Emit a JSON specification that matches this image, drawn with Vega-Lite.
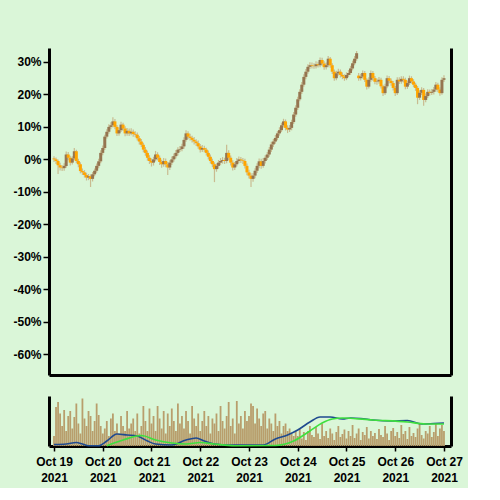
{
"$schema": "https://vega.github.io/schema/vega-lite/v6.json",
"background": "#daf6d8",
"padding": {"left": 12, "top": 48, "right": 5, "bottom": 5},
"spacing": 21,
"datasets": {
"ohlc": [
{"t":"2021-10-19T00:00","o":0.3,"h":1.0,"l":-0.8,"c":0.0,"v":20},
{"t":"2021-10-19T01:00","o":0.0,"h":0.6,"l":-1.4,"c":-0.5,"v":78},
{"t":"2021-10-19T02:00","o":-0.5,"h":0.0,"l":-4.5,"c":-1.8,"v":88},
{"t":"2021-10-19T03:00","o":-1.8,"h":-1.0,"l":-3.4,"c":-2.5,"v":65},
{"t":"2021-10-19T04:00","o":-2.5,"h":-1.8,"l":-3.6,"c":-2.7,"v":40},
{"t":"2021-10-19T05:00","o":-2.7,"h":-1.2,"l":-3.5,"c":-2.0,"v":72},
{"t":"2021-10-19T06:00","o":-2.0,"h":2.4,"l":-2.6,"c":1.5,"v":30},
{"t":"2021-10-19T07:00","o":1.5,"h":2.3,"l":-0.3,"c":0.5,"v":60},
{"t":"2021-10-19T08:00","o":0.5,"h":1.1,"l":-1.9,"c":-1.0,"v":70},
{"t":"2021-10-19T09:00","o":-1.0,"h":1.0,"l":-1.6,"c":0.3,"v":35},
{"t":"2021-10-19T10:00","o":0.3,"h":3.5,"l":-0.3,"c":2.5,"v":58},
{"t":"2021-10-19T11:00","o":2.5,"h":3.0,"l":-1.2,"c":-0.5,"v":85},
{"t":"2021-10-19T12:00","o":-0.5,"h":0.2,"l":-2.4,"c":-1.5,"v":45},
{"t":"2021-10-19T13:00","o":-1.5,"h":-0.9,"l":-4.3,"c":-3.6,"v":25},
{"t":"2021-10-19T14:00","o":-3.6,"h":-2.8,"l":-4.8,"c":-4.0,"v":95},
{"t":"2021-10-19T15:00","o":-4.0,"h":-3.3,"l":-5.6,"c":-4.8,"v":55},
{"t":"2021-10-19T16:00","o":-4.8,"h":-4.1,"l":-6.5,"c":-5.6,"v":40},
{"t":"2021-10-19T17:00","o":-5.6,"h":-4.5,"l":-6.4,"c":-5.2,"v":70},
{"t":"2021-10-19T18:00","o":-5.2,"h":-4.6,"l":-8.5,"c":-6.0,"v":60},
{"t":"2021-10-19T19:00","o":-6.0,"h":-3.9,"l":-6.8,"c":-4.6,"v":30},
{"t":"2021-10-19T20:00","o":-4.6,"h":-2.8,"l":-5.2,"c":-3.5,"v":50},
{"t":"2021-10-19T21:00","o":-3.5,"h":-1.3,"l":-4.1,"c":-2.0,"v":85},
{"t":"2021-10-19T22:00","o":-2.0,"h":0.2,"l":-2.7,"c":-0.6,"v":62},
{"t":"2021-10-19T23:00","o":-0.6,"h":2.8,"l":-1.2,"c":2.0,"v":40},
{"t":"2021-10-20T00:00","o":2.0,"h":4.3,"l":1.3,"c":3.5,"v":25},
{"t":"2021-10-20T01:00","o":3.5,"h":7.6,"l":2.9,"c":7.0,"v":35},
{"t":"2021-10-20T02:00","o":7.0,"h":9.3,"l":6.4,"c":8.5,"v":50},
{"t":"2021-10-20T03:00","o":8.5,"h":10.8,"l":7.9,"c":10.0,"v":20},
{"t":"2021-10-20T04:00","o":10.0,"h":11.4,"l":9.3,"c":10.5,"v":55},
{"t":"2021-10-20T05:00","o":10.5,"h":13.0,"l":9.8,"c":11.7,"v":65},
{"t":"2021-10-20T06:00","o":11.7,"h":12.4,"l":9.3,"c":10.0,"v":30},
{"t":"2021-10-20T07:00","o":10.0,"h":10.6,"l":7.2,"c":8.0,"v":45},
{"t":"2021-10-20T08:00","o":8.0,"h":9.8,"l":7.3,"c":9.0,"v":25},
{"t":"2021-10-20T09:00","o":9.0,"h":11.6,"l":8.4,"c":10.7,"v":60},
{"t":"2021-10-20T10:00","o":10.7,"h":11.3,"l":8.8,"c":9.5,"v":40},
{"t":"2021-10-20T11:00","o":9.5,"h":10.2,"l":7.1,"c":8.0,"v":30},
{"t":"2021-10-20T12:00","o":8.0,"h":9.7,"l":7.3,"c":8.8,"v":70},
{"t":"2021-10-20T13:00","o":8.8,"h":9.5,"l":7.2,"c":8.0,"v":35},
{"t":"2021-10-20T14:00","o":8.0,"h":9.6,"l":7.4,"c":8.5,"v":45},
{"t":"2021-10-20T15:00","o":8.5,"h":9.2,"l":7.0,"c":7.8,"v":55},
{"t":"2021-10-20T16:00","o":7.8,"h":8.7,"l":6.8,"c":7.6,"v":30},
{"t":"2021-10-20T17:00","o":7.6,"h":8.3,"l":5.8,"c":6.5,"v":65},
{"t":"2021-10-20T18:00","o":6.5,"h":7.2,"l":4.6,"c":5.5,"v":25},
{"t":"2021-10-20T19:00","o":5.5,"h":6.3,"l":3.8,"c":4.5,"v":40},
{"t":"2021-10-20T20:00","o":4.5,"h":5.1,"l":2.2,"c":3.0,"v":80},
{"t":"2021-10-20T21:00","o":3.0,"h":3.8,"l":1.1,"c":2.0,"v":50},
{"t":"2021-10-20T22:00","o":2.0,"h":2.7,"l":-0.4,"c":0.5,"v":30},
{"t":"2021-10-20T23:00","o":0.5,"h":1.3,"l":-1.4,"c":-0.5,"v":75},
{"t":"2021-10-21T00:00","o":-0.5,"h":0.3,"l":-2.2,"c":-1.0,"v":45},
{"t":"2021-10-21T01:00","o":-1.0,"h":0.8,"l":-1.9,"c":0.0,"v":60},
{"t":"2021-10-21T02:00","o":0.0,"h":2.6,"l":-0.6,"c":1.5,"v":30},
{"t":"2021-10-21T03:00","o":1.5,"h":2.2,"l":-0.3,"c":0.5,"v":80},
{"t":"2021-10-21T04:00","o":0.5,"h":1.2,"l":-1.7,"c":-0.8,"v":55},
{"t":"2021-10-21T05:00","o":-0.8,"h":-0.1,"l":-2.6,"c":-1.5,"v":35},
{"t":"2021-10-21T06:00","o":-1.5,"h":0.4,"l":-2.3,"c":-0.5,"v":70},
{"t":"2021-10-21T07:00","o":-0.5,"h":0.3,"l":-2.4,"c":-1.5,"v":25},
{"t":"2021-10-21T08:00","o":-1.5,"h":-0.8,"l":-4.8,"c":-2.5,"v":65},
{"t":"2021-10-21T09:00","o":-2.5,"h":-0.3,"l":-3.3,"c":-1.0,"v":40},
{"t":"2021-10-21T10:00","o":-1.0,"h":0.9,"l":-1.7,"c":0.0,"v":75},
{"t":"2021-10-21T11:00","o":0.0,"h":1.8,"l":-0.7,"c":1.0,"v":50},
{"t":"2021-10-21T12:00","o":1.0,"h":2.9,"l":0.3,"c":2.0,"v":30},
{"t":"2021-10-21T13:00","o":2.0,"h":3.7,"l":1.2,"c":3.0,"v":85},
{"t":"2021-10-21T14:00","o":3.0,"h":4.1,"l":2.3,"c":3.2,"v":45},
{"t":"2021-10-21T15:00","o":3.2,"h":4.8,"l":2.5,"c":4.0,"v":60},
{"t":"2021-10-21T16:00","o":4.0,"h":6.8,"l":3.3,"c":6.0,"v":35},
{"t":"2021-10-21T17:00","o":6.0,"h":9.0,"l":5.4,"c":8.0,"v":70},
{"t":"2021-10-21T18:00","o":8.0,"h":8.7,"l":6.2,"c":7.0,"v":50},
{"t":"2021-10-21T19:00","o":7.0,"h":7.9,"l":5.8,"c":6.6,"v":25},
{"t":"2021-10-21T20:00","o":6.6,"h":7.3,"l":5.2,"c":6.0,"v":80},
{"t":"2021-10-21T21:00","o":6.0,"h":6.9,"l":4.6,"c":5.5,"v":55},
{"t":"2021-10-21T22:00","o":5.5,"h":6.2,"l":4.1,"c":5.0,"v":40},
{"t":"2021-10-21T23:00","o":5.0,"h":5.8,"l":3.3,"c":4.0,"v":65},
{"t":"2021-10-22T00:00","o":4.0,"h":4.7,"l":2.1,"c":3.0,"v":30},
{"t":"2021-10-22T01:00","o":3.0,"h":4.4,"l":2.3,"c":3.5,"v":50},
{"t":"2021-10-22T02:00","o":3.5,"h":4.2,"l":2.2,"c":3.0,"v":70},
{"t":"2021-10-22T03:00","o":3.0,"h":3.6,"l":1.2,"c":2.0,"v":40},
{"t":"2021-10-22T04:00","o":2.0,"h":2.7,"l":0.0,"c":0.8,"v":60},
{"t":"2021-10-22T05:00","o":0.8,"h":1.5,"l":-1.3,"c":-0.5,"v":25},
{"t":"2021-10-22T06:00","o":-0.5,"h":0.2,"l":-2.4,"c":-1.5,"v":55},
{"t":"2021-10-22T07:00","o":-1.5,"h":-0.9,"l":-7.0,"c":-3.0,"v":45},
{"t":"2021-10-22T08:00","o":-3.0,"h":-1.2,"l":-3.8,"c":-2.0,"v":65},
{"t":"2021-10-22T09:00","o":-2.0,"h":-0.2,"l":-2.9,"c":-1.0,"v":30},
{"t":"2021-10-22T10:00","o":-1.0,"h":0.4,"l":-1.8,"c":-0.5,"v":80},
{"t":"2021-10-22T11:00","o":-0.5,"h":0.7,"l":-1.3,"c":-0.2,"v":50},
{"t":"2021-10-22T12:00","o":-0.2,"h":0.5,"l":-1.4,"c":-0.5,"v":35},
{"t":"2021-10-22T13:00","o":-0.5,"h":4.5,"l":-1.2,"c":2.0,"v":60},
{"t":"2021-10-22T14:00","o":2.0,"h":2.8,"l":-0.3,"c":0.5,"v":88},
{"t":"2021-10-22T15:00","o":0.5,"h":1.2,"l":-1.9,"c":-1.0,"v":40},
{"t":"2021-10-22T16:00","o":-1.0,"h":-0.3,"l":-3.4,"c":-2.5,"v":55},
{"t":"2021-10-22T17:00","o":-2.5,"h":-0.8,"l":-3.3,"c":-1.5,"v":25},
{"t":"2021-10-22T18:00","o":-1.5,"h":0.4,"l":-2.2,"c":-0.5,"v":90},
{"t":"2021-10-22T19:00","o":-0.5,"h":0.9,"l":-1.2,"c":0.0,"v":45},
{"t":"2021-10-22T20:00","o":0.0,"h":0.7,"l":-1.1,"c":-0.3,"v":60},
{"t":"2021-10-22T21:00","o":-0.3,"h":0.4,"l":-1.4,"c":-0.5,"v":35},
{"t":"2021-10-22T22:00","o":-0.5,"h":0.2,"l":-2.8,"c":-2.0,"v":70},
{"t":"2021-10-22T23:00","o":-2.0,"h":-1.3,"l":-4.9,"c":-4.0,"v":50},
{"t":"2021-10-23T00:00","o":-4.0,"h":-3.2,"l":-5.9,"c":-5.0,"v":60},
{"t":"2021-10-23T01:00","o":-5.0,"h":-4.3,"l":-8.5,"c":-6.0,"v":85},
{"t":"2021-10-23T02:00","o":-6.0,"h":-4.2,"l":-6.9,"c":-5.0,"v":80},
{"t":"2021-10-23T03:00","o":-5.0,"h":-2.7,"l":-5.8,"c":-3.5,"v":45},
{"t":"2021-10-23T04:00","o":-3.5,"h":-1.2,"l":-4.2,"c":-2.0,"v":75},
{"t":"2021-10-23T05:00","o":-2.0,"h":0.3,"l":-2.7,"c":-0.6,"v":55},
{"t":"2021-10-23T06:00","o":-0.6,"h":0.2,"l":-2.9,"c":-2.0,"v":40},
{"t":"2021-10-23T07:00","o":-2.0,"h":0.4,"l":-2.6,"c":-0.5,"v":65},
{"t":"2021-10-23T08:00","o":-0.5,"h":1.3,"l":-1.3,"c":0.5,"v":70},
{"t":"2021-10-23T09:00","o":0.5,"h":2.3,"l":-0.2,"c":1.5,"v":35},
{"t":"2021-10-23T10:00","o":1.5,"h":3.8,"l":0.8,"c":3.0,"v":55},
{"t":"2021-10-23T11:00","o":3.0,"h":5.4,"l":2.3,"c":4.6,"v":45},
{"t":"2021-10-23T12:00","o":4.6,"h":6.3,"l":3.8,"c":5.5,"v":30},
{"t":"2021-10-23T13:00","o":5.5,"h":7.5,"l":4.8,"c":6.6,"v":65},
{"t":"2021-10-23T14:00","o":6.6,"h":8.7,"l":5.9,"c":8.0,"v":40},
{"t":"2021-10-23T15:00","o":8.0,"h":9.9,"l":7.3,"c":9.0,"v":50},
{"t":"2021-10-23T16:00","o":9.0,"h":11.3,"l":8.4,"c":10.5,"v":25},
{"t":"2021-10-23T17:00","o":10.5,"h":12.5,"l":9.8,"c":11.7,"v":40},
{"t":"2021-10-23T18:00","o":11.7,"h":12.3,"l":8.9,"c":9.7,"v":45},
{"t":"2021-10-23T19:00","o":9.7,"h":10.5,"l":8.1,"c":9.2,"v":30},
{"t":"2021-10-23T20:00","o":9.2,"h":10.6,"l":8.4,"c":9.7,"v":35},
{"t":"2021-10-23T21:00","o":9.7,"h":12.2,"l":9.0,"c":11.5,"v":25},
{"t":"2021-10-23T22:00","o":11.5,"h":14.6,"l":10.9,"c":13.8,"v":20},
{"t":"2021-10-23T23:00","o":13.8,"h":16.7,"l":13.1,"c":15.9,"v":30},
{"t":"2021-10-24T00:00","o":15.9,"h":19.3,"l":15.2,"c":18.5,"v":20},
{"t":"2021-10-24T01:00","o":18.5,"h":21.6,"l":17.9,"c":20.8,"v":35},
{"t":"2021-10-24T02:00","o":20.8,"h":23.8,"l":20.1,"c":23.0,"v":15},
{"t":"2021-10-24T03:00","o":23.0,"h":26.2,"l":22.4,"c":25.4,"v":28},
{"t":"2021-10-24T04:00","o":25.4,"h":27.8,"l":24.7,"c":27.0,"v":12},
{"t":"2021-10-24T05:00","o":27.0,"h":29.3,"l":26.4,"c":28.5,"v":30},
{"t":"2021-10-24T06:00","o":28.5,"h":29.9,"l":27.8,"c":29.0,"v":40},
{"t":"2021-10-24T07:00","o":29.0,"h":29.8,"l":28.0,"c":28.8,"v":22},
{"t":"2021-10-24T08:00","o":28.8,"h":29.6,"l":27.9,"c":28.7,"v":18},
{"t":"2021-10-24T09:00","o":28.7,"h":30.2,"l":28.0,"c":29.3,"v":38},
{"t":"2021-10-24T10:00","o":29.3,"h":30.1,"l":28.3,"c":29.0,"v":25},
{"t":"2021-10-24T11:00","o":29.0,"h":31.4,"l":28.4,"c":30.6,"v":14},
{"t":"2021-10-24T12:00","o":30.6,"h":31.3,"l":28.8,"c":29.5,"v":45},
{"t":"2021-10-24T13:00","o":29.5,"h":30.2,"l":27.6,"c":28.4,"v":20},
{"t":"2021-10-24T14:00","o":28.4,"h":29.8,"l":27.7,"c":29.0,"v":30},
{"t":"2021-10-24T15:00","o":29.0,"h":31.8,"l":28.4,"c":31.0,"v":16},
{"t":"2021-10-24T16:00","o":31.0,"h":31.5,"l":28.2,"c":29.0,"v":35},
{"t":"2021-10-24T17:00","o":29.0,"h":29.6,"l":26.3,"c":27.0,"v":25},
{"t":"2021-10-24T18:00","o":27.0,"h":27.7,"l":24.2,"c":25.0,"v":12},
{"t":"2021-10-24T19:00","o":25.0,"h":27.3,"l":24.4,"c":26.5,"v":28},
{"t":"2021-10-24T20:00","o":26.5,"h":27.9,"l":25.8,"c":27.0,"v":40},
{"t":"2021-10-24T21:00","o":27.0,"h":27.7,"l":25.2,"c":26.0,"v":18},
{"t":"2021-10-24T22:00","o":26.0,"h":26.8,"l":24.7,"c":25.5,"v":24},
{"t":"2021-10-24T23:00","o":25.5,"h":26.2,"l":24.2,"c":25.0,"v":33},
{"t":"2021-10-25T00:00","o":25.0,"h":26.8,"l":24.4,"c":26.0,"v":15},
{"t":"2021-10-25T01:00","o":26.0,"h":27.5,"l":25.3,"c":26.6,"v":30},
{"t":"2021-10-25T02:00","o":26.6,"h":28.8,"l":26.0,"c":28.0,"v":20},
{"t":"2021-10-25T03:00","o":28.0,"h":30.4,"l":27.4,"c":29.6,"v":42},
{"t":"2021-10-25T04:00","o":29.6,"h":31.8,"l":29.0,"c":31.0,"v":16},
{"t":"2021-10-25T05:00","o":31.0,"h":33.4,"l":30.4,"c":32.7,"v":25},
{"t":"2021-10-25T06:00","o":25.8,"h":26.6,"l":24.2,"c":25.0,"v":35},
{"t":"2021-10-25T07:00","o":25.0,"h":26.4,"l":24.3,"c":25.5,"v":12},
{"t":"2021-10-25T08:00","o":25.5,"h":27.4,"l":24.9,"c":26.6,"v":28},
{"t":"2021-10-25T09:00","o":26.6,"h":27.2,"l":23.8,"c":24.5,"v":22},
{"t":"2021-10-25T10:00","o":24.5,"h":25.0,"l":21.5,"c":22.4,"v":38},
{"t":"2021-10-25T11:00","o":22.4,"h":25.3,"l":21.8,"c":24.5,"v":15},
{"t":"2021-10-25T12:00","o":24.5,"h":27.4,"l":23.9,"c":26.6,"v":30},
{"t":"2021-10-25T13:00","o":26.6,"h":27.2,"l":24.2,"c":25.0,"v":20},
{"t":"2021-10-25T14:00","o":25.0,"h":25.7,"l":23.1,"c":23.9,"v":26},
{"t":"2021-10-25T15:00","o":23.9,"h":24.9,"l":23.0,"c":24.0,"v":14},
{"t":"2021-10-25T16:00","o":24.0,"h":25.4,"l":23.3,"c":24.5,"v":34},
{"t":"2021-10-25T17:00","o":24.5,"h":25.1,"l":21.8,"c":22.5,"v":22},
{"t":"2021-10-25T18:00","o":22.5,"h":23.0,"l":19.5,"c":20.4,"v":18},
{"t":"2021-10-25T19:00","o":20.4,"h":23.3,"l":19.8,"c":22.5,"v":40},
{"t":"2021-10-25T20:00","o":22.5,"h":25.8,"l":21.9,"c":25.0,"v":25},
{"t":"2021-10-25T21:00","o":25.0,"h":25.7,"l":23.4,"c":24.2,"v":12},
{"t":"2021-10-25T22:00","o":24.2,"h":24.9,"l":22.7,"c":23.5,"v":30},
{"t":"2021-10-25T23:00","o":23.5,"h":24.1,"l":21.2,"c":22.0,"v":36},
{"t":"2021-10-26T00:00","o":22.0,"h":22.6,"l":19.5,"c":20.4,"v":20},
{"t":"2021-10-26T01:00","o":20.4,"h":25.3,"l":19.8,"c":24.5,"v":28},
{"t":"2021-10-26T02:00","o":24.5,"h":25.3,"l":23.2,"c":24.0,"v":16},
{"t":"2021-10-26T03:00","o":24.0,"h":25.6,"l":23.3,"c":24.8,"v":42},
{"t":"2021-10-26T04:00","o":24.8,"h":25.6,"l":23.7,"c":24.5,"v":24},
{"t":"2021-10-26T05:00","o":24.5,"h":25.1,"l":21.6,"c":22.4,"v":30},
{"t":"2021-10-26T06:00","o":22.4,"h":24.3,"l":21.7,"c":23.5,"v":14},
{"t":"2021-10-26T07:00","o":23.5,"h":25.8,"l":22.9,"c":25.0,"v":38},
{"t":"2021-10-26T08:00","o":25.0,"h":25.6,"l":23.3,"c":24.0,"v":20},
{"t":"2021-10-26T09:00","o":24.0,"h":24.7,"l":22.2,"c":23.0,"v":26},
{"t":"2021-10-26T10:00","o":23.0,"h":23.6,"l":21.1,"c":22.0,"v":18},
{"t":"2021-10-26T11:00","o":22.0,"h":22.6,"l":17.0,"c":19.0,"v":35},
{"t":"2021-10-26T12:00","o":19.0,"h":21.3,"l":18.3,"c":20.5,"v":45},
{"t":"2021-10-26T13:00","o":20.5,"h":22.2,"l":19.8,"c":21.4,"v":22},
{"t":"2021-10-26T14:00","o":21.4,"h":22.0,"l":16.5,"c":18.3,"v":15},
{"t":"2021-10-26T15:00","o":18.3,"h":20.3,"l":17.6,"c":19.5,"v":30},
{"t":"2021-10-26T16:00","o":19.5,"h":21.6,"l":18.9,"c":20.8,"v":25},
{"t":"2021-10-26T17:00","o":20.8,"h":21.5,"l":19.7,"c":20.5,"v":40},
{"t":"2021-10-26T18:00","o":20.5,"h":21.7,"l":19.8,"c":20.8,"v":18},
{"t":"2021-10-26T19:00","o":20.8,"h":22.3,"l":20.0,"c":21.5,"v":28},
{"t":"2021-10-26T20:00","o":21.5,"h":23.8,"l":20.8,"c":23.0,"v":45},
{"t":"2021-10-26T21:00","o":23.0,"h":23.6,"l":20.7,"c":21.5,"v":20},
{"t":"2021-10-26T22:00","o":21.5,"h":22.2,"l":19.6,"c":20.4,"v":35},
{"t":"2021-10-26T23:00","o":20.4,"h":25.3,"l":19.9,"c":24.5,"v":42},
{"t":"2021-10-27T00:00","o":24.5,"h":25.9,"l":23.8,"c":25.0,"v":30}
],
"ma": [
{"t":"2021-10-19T00:00","s":"a","m":3},
{"t":"2021-10-19T06:00","s":"a","m":4},
{"t":"2021-10-19T11:00","s":"a","m":7},
{"t":"2021-10-19T14:00","s":"a","m":4},
{"t":"2021-10-19T17:00","s":"a","m":0.5},
{"t":"2021-10-19T22:00","s":"a","m":0.5},
{"t":"2021-10-20T02:00","s":"a","m":10},
{"t":"2021-10-20T07:00","s":"a","m":24},
{"t":"2021-10-20T12:00","s":"a","m":22},
{"t":"2021-10-20T17:00","s":"a","m":20},
{"t":"2021-10-20T22:00","s":"a","m":10},
{"t":"2021-10-21T02:00","s":"a","m":4},
{"t":"2021-10-21T10:00","s":"a","m":2},
{"t":"2021-10-21T17:00","s":"a","m":12},
{"t":"2021-10-21T22:00","s":"a","m":16},
{"t":"2021-10-22T02:00","s":"a","m":10},
{"t":"2021-10-22T07:00","s":"a","m":4},
{"t":"2021-10-22T14:00","s":"a","m":2},
{"t":"2021-10-23T00:00","s":"a","m":2},
{"t":"2021-10-23T07:00","s":"a","m":2},
{"t":"2021-10-23T13:00","s":"a","m":14},
{"t":"2021-10-23T19:00","s":"a","m":22},
{"t":"2021-10-24T00:00","s":"a","m":32},
{"t":"2021-10-24T06:00","s":"a","m":48},
{"t":"2021-10-24T11:00","s":"a","m":58},
{"t":"2021-10-24T16:00","s":"a","m":58},
{"t":"2021-10-24T22:00","s":"a","m":54},
{"t":"2021-10-25T02:00","s":"a","m":56},
{"t":"2021-10-25T07:00","s":"a","m":55},
{"t":"2021-10-25T13:00","s":"a","m":52},
{"t":"2021-10-25T22:00","s":"a","m":50},
{"t":"2021-10-26T06:00","s":"a","m":51},
{"t":"2021-10-26T13:00","s":"a","m":44},
{"t":"2021-10-26T19:00","s":"a","m":45},
{"t":"2021-10-27T00:00","s":"a","m":46},
{"t":"2021-10-20T02:00","s":"b","m":0.5},
{"t":"2021-10-20T10:00","s":"b","m":12},
{"t":"2021-10-20T19:00","s":"b","m":21},
{"t":"2021-10-21T02:00","s":"b","m":12},
{"t":"2021-10-21T10:00","s":"b","m":6},
{"t":"2021-10-21T17:00","s":"b","m":4},
{"t":"2021-10-22T00:00","s":"b","m":7},
{"t":"2021-10-22T07:00","s":"b","m":4},
{"t":"2021-10-22T17:00","s":"b","m":0.5},
{"t":"2021-10-23T13:00","s":"b","m":1},
{"t":"2021-10-23T22:00","s":"b","m":10},
{"t":"2021-10-24T06:00","s":"b","m":30},
{"t":"2021-10-24T12:00","s":"b","m":46},
{"t":"2021-10-24T17:00","s":"b","m":54},
{"t":"2021-10-24T22:00","s":"b","m":56},
{"t":"2021-10-25T13:00","s":"b","m":52},
{"t":"2021-10-26T06:00","s":"b","m":48},
{"t":"2021-10-26T15:00","s":"b","m":44},
{"t":"2021-10-27T00:00","s":"b","m":44}
]
},
"vconcat": [
{
"width": 402, "height": 327,
"data": {"name": "ohlc"},
"layer": [
{"mark": {"type": "rule", "color": "#c2a272", "opacity": 0.7, "strokeWidth": 1.2},
 "encoding": {
  "x": {"field": "t", "type": "temporal", "scale": {"domain": [{"year": 2021, "month": "oct", "date": 19, "hours": 0}, {"year": 2021, "month": "oct", "date": 27, "hours": 1}]}, "axis": {"labels": false, "ticks": false, "title": null, "grid": false}},
  "y": {"field": "l", "type": "quantitative", "scale": {"domain": [-66.4, 34.3], "nice": false, "zero": false}, "axis": {"values": [-60,-50,-40,-30,-20,-10,0,10,20,30], "labelExpr": "datum.value + '%'", "title": null, "grid": false, "tickSize": 6}},
  "y2": {"field": "h"}
 }},
{"mark": {"type": "bar", "size": 3},
 "encoding": {
  "x": {"field": "t", "type": "temporal", "scale": {"domain": [{"year": 2021, "month": "oct", "date": 19, "hours": 0}, {"year": 2021, "month": "oct", "date": 27, "hours": 1}]}, "axis": {"labels": false, "ticks": false, "title": null, "grid": false}},
  "y": {"field": "o", "type": "quantitative", "scale": {"domain": [-66.4, 34.3], "nice": false, "zero": false}, "axis": null},
  "y2": {"field": "c"},
  "color": {"condition": {"test": "datum.c >= datum.o", "value": "#957550"}, "value": "#ffa500"}
 }},
{"mark": {"type": "rule", "opacity": 0},
 "encoding": {
  "y": {"field": "c", "type": "quantitative", "scale": {"domain": [-66.4, 34.3], "nice": false, "zero": false}, "axis": {"orient": "right", "labels": false, "ticks": false, "title": null, "grid": false}}
 }}
],
"resolve": {"axis": {"y": "independent"}}
},
{
"width": 402, "height": 50,
"layer": [
{"data": {"name": "ohlc"},
 "mark": {"type": "bar", "size": 1.8, "color": "#b89e6c"},
 "encoding": {
  "x": {"field": "t", "type": "temporal", "scale": {"domain": [{"year": 2021, "month": "oct", "date": 19, "hours": 0}, {"year": 2021, "month": "oct", "date": 27, "hours": 1}]}, "axis": {"title": null, "grid": false, "tickCount": {"interval": "day", "step": 1}, "labelExpr": "[timeFormat(datum.value, '%b %d'), timeFormat(datum.value, '%Y')]", "tickSize": 5, "labelPadding": 5, "labelLineHeight": 16, "labelBaseline": "top"}},
  "y": {"field": "v", "type": "quantitative", "scale": {"domain": [0, 100], "nice": false}, "axis": {"labels": false, "ticks": false, "title": null, "grid": false}}
 }},
{"data": {"name": "ma"},
 "mark": {"type": "line", "strokeWidth": 1.6, "interpolate": "monotone"},
 "encoding": {
  "x": {"field": "t", "type": "temporal"},
  "y": {"field": "m", "type": "quantitative", "axis": null},
  "color": {"field": "s", "type": "nominal", "scale": {"domain": ["a", "b"], "range": ["#1f4a8f", "#3ee03e"]}, "legend": null}
 }},
{"data": {"name": "ma"},
 "mark": {"type": "rule", "opacity": 0},
 "encoding": {
  "y": {"field": "m", "type": "quantitative", "scale": {"domain": [0, 100], "nice": false}, "axis": {"orient": "right", "labels": false, "ticks": false, "title": null, "grid": false}}
 }}
],
"resolve": {"axis": {"y": "independent"}}
}
],
"config": {
"view": {"stroke": null},
"axis": {"domainColor": "#000000", "domainWidth": 3, "tickColor": "#000000", "tickWidth": 1.5, "labelColor": "#000000", "labelFont": "Liberation Sans", "labelFontSize": 12, "labelFontWeight": "bold", "grid": false}
}
}
